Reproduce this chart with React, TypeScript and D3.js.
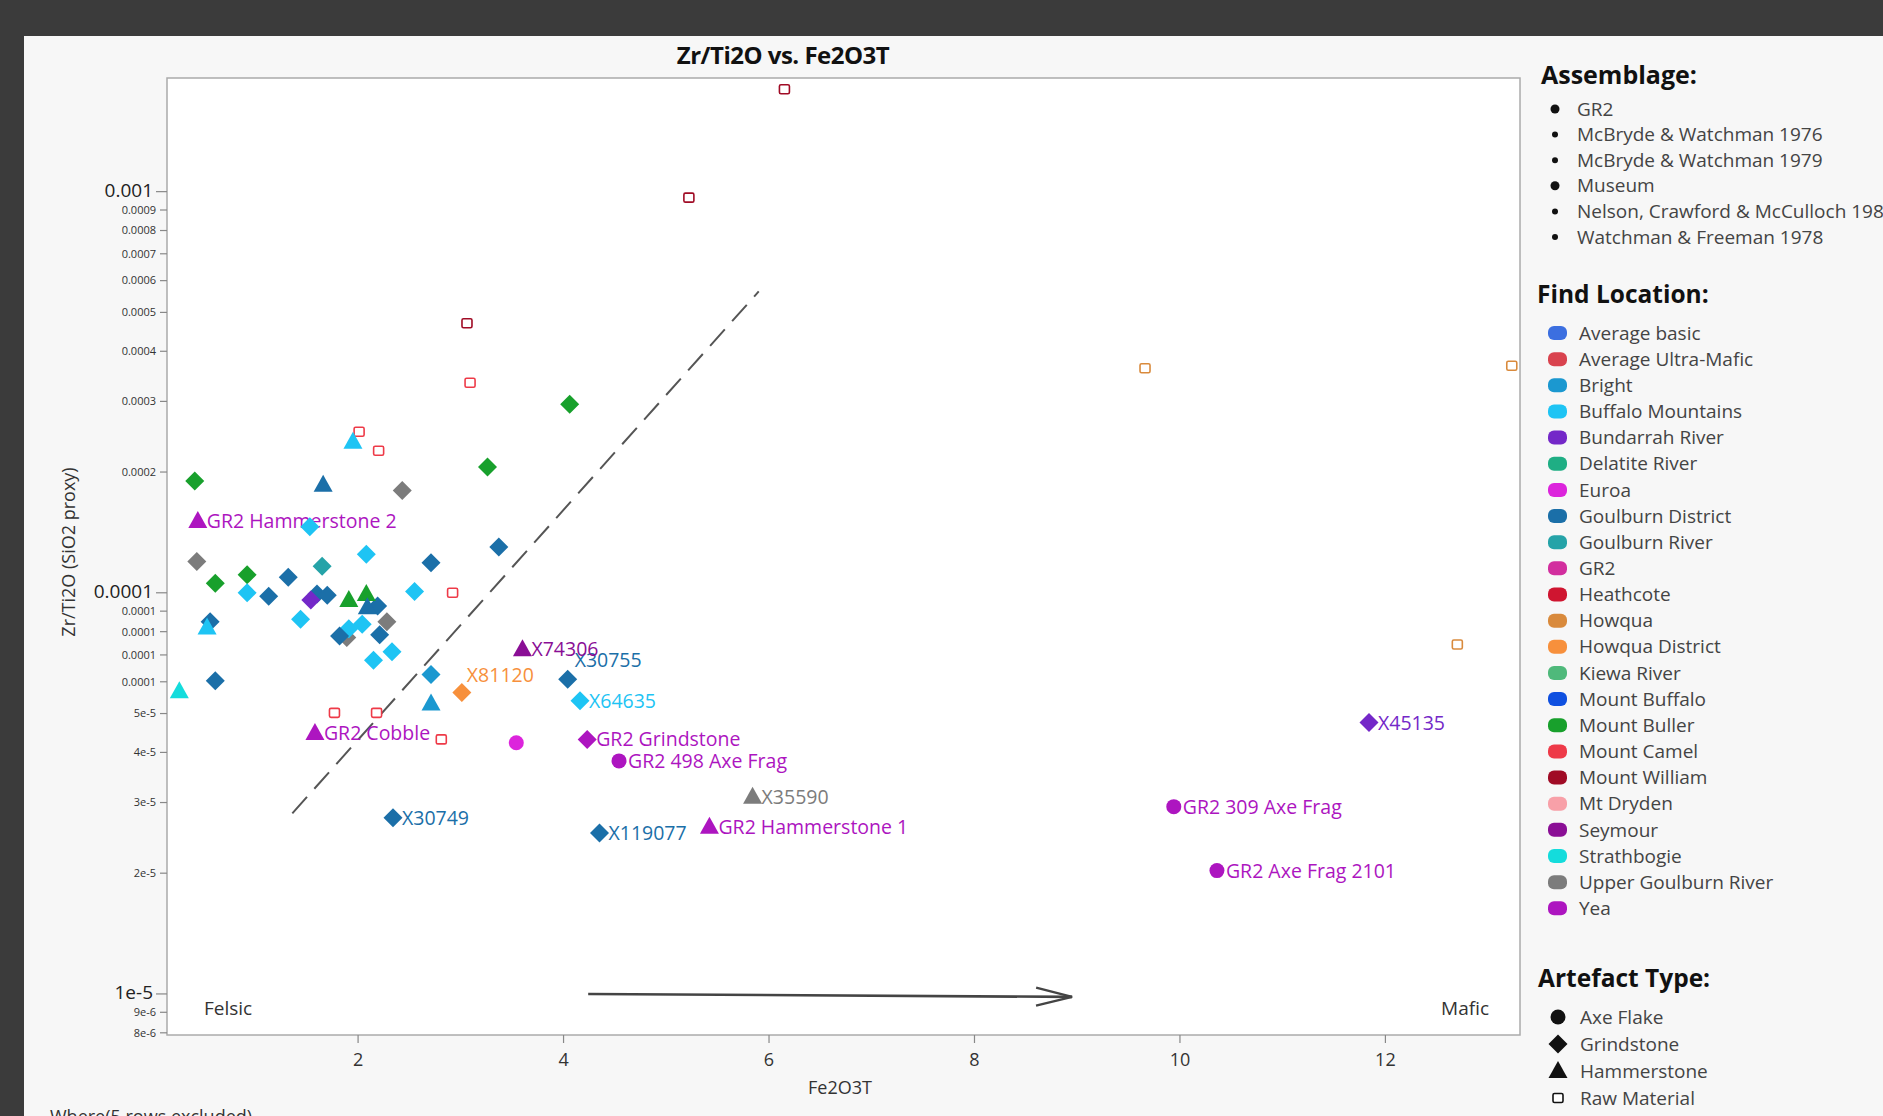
import React from 'react';
import * as d3 from 'd3';

// ---------- categories ----------
const locationNames = [
  'Average basic', 'Average Ultra-Mafic', 'Bright', 'Buffalo Mountains', 'Bundarrah River',
  'Delatite River', 'Euroa', 'Goulburn District', 'Goulburn River', 'GR2', 'Heathcote',
  'Howqua', 'Howqua District', 'Kiewa River', 'Mount Buffalo', 'Mount Buller', 'Mount Camel',
  'Mount William', 'Mt Dryden', 'Seymour', 'Strathbogie', 'Upper Goulburn River', 'Yea',
];
const locationColors = [
  '#3c6fe0', '#d9434e', '#1b98d0', '#1ec4f4', '#7428c8',
  '#1fae84', '#dc24dc', '#1b6fa8', '#25a3a8', '#d22e9e', '#cf1530',
  '#d98a3c', '#f7903c', '#4fb97b', '#0f50e0', '#18a02c', '#ee3a48',
  '#a00b25', '#f8a0a8', '#8a0e95', '#14dcdc', '#7c7c7c', '#ad15c0',
];
const assemblageNames = [
  'GR2', 'McBryde & Watchman 1976', 'McBryde & Watchman 1979', 'Museum',
  'Nelson, Crawford & McCulloch 1980', 'Watchman & Freeman 1978',
];
const assemblageMajor = ['GR2', 'Museum'];
const artefactTypes = ['Axe Flake', 'Grindstone', 'Hammerstone', 'Raw Material'];

// ---------- points ----------
const fe2o3T = [
  // raw material
  6.15, 5.22, 3.06, 3.09, 2.01, 2.20, 2.92, 1.77, 2.18, 2.81, 9.66, 13.23, 12.70,
  // grindstones
  0.41, 3.26, 4.06, 0.61, 0.92,
  2.43, 0.43, 2.28, 1.89,
  1.53, 0.92, 2.08, 2.55, 1.44, 1.91, 2.04, 2.33, 2.15, 4.16,
  1.32, 1.13, 2.71, 3.37, 1.60, 1.70, 2.19, 0.56, 1.82, 2.21, 0.61, 4.04, 2.34, 4.35,
  2.71, 1.65, 1.54, 11.84, 3.01, 4.23,
  // hammerstones
  1.91, 2.08, 5.84, 1.95, 0.53, 1.66, 2.09, 2.71, 0.26, 3.60, 0.44, 1.58, 5.42,
  // axe flakes
  3.54, 4.54, 9.94, 10.36,
];
const zrTi2O = [
  0.00180, 0.000966, 0.00047, 0.000334, 0.000252, 0.000226, 0.000100, 5.02e-5, 5.02e-5, 4.31e-5, 0.000363, 0.000368, 7.43e-5,
  1.90e-4, 2.06e-4, 2.95e-4, 1.057e-4, 1.109e-4,
  1.80e-4, 1.197e-4, 8.47e-5, 7.74e-5,
  1.46e-4, 1.0e-4, 1.247e-4, 1.007e-4, 8.59e-5, 8.13e-5, 8.35e-5, 7.13e-5, 6.79e-5, 5.38e-5,
  1.094e-4, 9.80e-5, 1.189e-4, 1.30e-4, 9.93e-5, 9.86e-5, 9.27e-5, 8.47e-5, 7.80e-5, 7.86e-5, 6.04e-5, 6.09e-5, 2.75e-5, 2.52e-5,
  6.26e-5, 1.164e-4, 9.59e-5, 4.75e-5, 5.64e-5, 4.31e-5,
  9.59e-5, 9.93e-5, 3.10e-5, 2.38e-4, 8.19e-5, 1.86e-4, 9.20e-5, 5.30e-5, 5.68e-5, 7.23e-5, 1.51e-4, 4.47e-5, 2.61e-5,
  4.23e-5, 3.81e-5, 2.93e-5, 2.03e-5,
];
const findLocation = [
  'Mount William', 'Mount William', 'Mount William', 'Mount Camel', 'Mount Camel', 'Mount Camel', 'Mount Camel',
  'Mount Camel', 'Mount Camel', 'Mount Camel', 'Howqua', 'Howqua', 'Howqua',
  'Mount Buller', 'Mount Buller', 'Mount Buller', 'Mount Buller', 'Mount Buller',
  'Upper Goulburn River', 'Upper Goulburn River', 'Upper Goulburn River', 'Upper Goulburn River',
  'Buffalo Mountains', 'Buffalo Mountains', 'Buffalo Mountains', 'Buffalo Mountains', 'Buffalo Mountains',
  'Buffalo Mountains', 'Buffalo Mountains', 'Buffalo Mountains', 'Buffalo Mountains', 'Buffalo Mountains',
  'Goulburn District', 'Goulburn District', 'Goulburn District', 'Goulburn District', 'Goulburn District',
  'Goulburn District', 'Goulburn District', 'Goulburn District', 'Goulburn District', 'Goulburn District',
  'Goulburn District', 'Goulburn District', 'Goulburn District', 'Goulburn District',
  'Bright', 'Goulburn River', 'Bundarrah River', 'Bundarrah River', 'Howqua District', 'Yea',
  'Mount Buller', 'Mount Buller', 'Upper Goulburn River', 'Buffalo Mountains', 'Buffalo Mountains',
  'Goulburn District', 'Goulburn District', 'Bright', 'Strathbogie', 'Seymour', 'Yea', 'Yea', 'Yea',
  'Euroa', 'Yea', 'Yea', 'Yea',
];
const artefactType = [
  ...Array(13).fill('Raw Material'),
  ...Array(39).fill('Grindstone'),
  ...Array(13).fill('Hammerstone'),
  ...Array(4).fill('Axe Flake'),
];
const pointLabel = [
  ...Array(13).fill(''),
  '', '', '', '', '',
  '', '', '', '',
  '', '', '', '', '', '', '', '', '', 'X64635',
  '', '', '', '', '', '', '', '', '', '', '', 'X30755', 'X30749', 'X119077',
  '', '', '', 'X45135', 'X81120', 'GR2 Grindstone',
  '', '', 'X35590', '', '', '', '', '', '', 'X74306', 'GR2 Hammerstone 2', 'GR2 Cobble', 'GR2 Hammerstone 1',
  '', 'GR2 498 Axe Frag', 'GR2 309 Axe Frag', 'GR2 Axe Frag 2101',
];
const labelShift: Record<string, [number, number]> = { X30755: [-2, -19], X81120: [-4, -18] };

// ---------- axes ----------
const xDomain = [0.14, 13.31];
const yDomain = [7.9e-6, 0.00192];
const xTicks = [2, 4, 6, 8, 10, 12];
const yMajorTicks = [0.001, 0.0001, 0.00001];
const yMajorLabels = ['0.001', '0.0001', '1e-5'];
const yMinorTicks = [0.0009, 0.0008, 0.0007, 0.0006, 0.0005, 0.0004, 0.0003, 0.0002,
  0.00009, 0.00008, 0.00007, 0.00006, 0.00005, 0.00004, 0.00003, 0.00002, 0.000009, 0.000008];
const yMinorLabels = ['0.0009', '0.0008', '0.0007', '0.0006', '0.0005', '0.0004', '0.0003', '0.0002',
  '0.0001', '0.0001', '0.0001', '0.0001', '5e-5', '4e-5', '3e-5', '2e-5', '9e-6', '8e-6'];

// ---------- annotations (data coordinates) ----------
const dividerLine: [number, number][] = [[1.36, 2.82e-5], [5.90, 5.64e-4]];
const trendArrow: [number, number][] = [[4.24, 1.0e-5], [8.95, 9.83e-6]];

const FONT = "'Open Sans', 'Noto Sans', sans-serif";

function Marker({ kind, color, cx, cy }: { kind: string; color: string; cx: number; cy: number }) {
  if (kind === 'Grindstone') return <path d="M0,-9.5L9.5,0L0,9.5L-9.5,0Z" transform={`translate(${cx},${cy})`} fill={color} />;
  if (kind === 'Hammerstone') return <path d="M0,-10L9.5,7L-9.5,7Z" transform={`translate(${cx},${cy})`} fill={color} />;
  if (kind === 'Axe Flake') return <circle cx={cx} cy={cy} r={7.5} fill={color} />;
  return <rect x={cx - 5} y={cy - 4.5} width={10} height={9} fill="white" stroke={color} strokeWidth={1.6} rx={1.5} />;
}

export default function App() {
  const L = 167, R = 1520, T = 78, B = 1035;
  const x = d3.scaleLinear().domain(xDomain).range([L, R]);
  const y = d3.scaleLog().domain(yDomain).range([B, T]);
  const colorOf = d3.scaleOrdinal<string, string>().domain(locationNames).range(locationColors);

  const pts = fe2o3T.map((v, i) => ({
    px: x(v), py: y(zrTi2O[i]), color: colorOf(findLocation[i]), kind: artefactType[i], label: pointLabel[i],
  }));

  const line = d3.line<[number, number]>().x(d => x(d[0])).y(d => y(d[1]));
  const a0 = [x(trendArrow[0][0]), y(trendArrow[0][1])];
  const a1 = [x(trendArrow[1][0]), y(trendArrow[1][1])];
  const ang = Math.atan2(a1[1] - a0[1], a1[0] - a0[0]);
  const head = (s: number) => [a1[0] - 36 * Math.cos(ang) + s * 9 * Math.sin(ang), a1[1] - 36 * Math.sin(ang) - s * 9 * Math.cos(ang)];
  const h1 = head(1), h2 = head(-1);

  const legX = 1537;
  return (
    <svg width={1883} height={1116} style={{ position: 'absolute', left: 0, top: 0 }} fontFamily={FONT}>
      <rect width={1883} height={1116} fill="#3b3b3b" />
      <rect x={24} y={36} width={1859} height={1080} fill="#f7f7f7" />
      <text x={783} y={64} textAnchor="middle" fontSize={24} fontWeight={700} fill="#111" letterSpacing={-0.5}>Zr/Ti2O vs. Fe2O3T</text>

      <rect x={L} y={T} width={R - L} height={B - T} fill="white" stroke="#ababab" strokeWidth={1.5} />

      {/* y axis */}
      {yMajorTicks.map((t, i) => (
        <g key={'ymj' + i}>
          <line x1={L - 11} x2={L} y1={y(t)} y2={y(t)} stroke="#888" strokeWidth={1.2} />
          <text x={L - 14} y={y(t)} dy="0.28em" textAnchor="end" fontSize={19} fill="#222">{yMajorLabels[i]}</text>
        </g>
      ))}
      {yMinorTicks.map((t, i) => (
        <g key={'ymn' + i}>
          <line x1={L - 7} x2={L} y1={y(t)} y2={y(t)} stroke="#888" strokeWidth={1.2} />
          <text x={L - 11} y={y(t)} dy="0.35em" textAnchor="end" fontSize={11} fill="#333">{yMinorLabels[i]}</text>
        </g>
      ))}
      <text transform="translate(75,552) rotate(-90)" textAnchor="middle" fontSize={18} fill="#333">Zr/Ti2O (SiO2 proxy)</text>

      {/* x axis */}
      {xTicks.map(t => (
        <g key={'xt' + t}>
          <line x1={x(t)} x2={x(t)} y1={B} y2={B + 8} stroke="#888" strokeWidth={1.2} />
          <text x={x(t)} y={B + 31} textAnchor="middle" fontSize={18} fill="#333">{t}</text>
        </g>
      ))}
      <text x={840} y={1094} textAnchor="middle" fontSize={18} fill="#333">Fe2O3T</text>

      {/* annotations */}
      <path d={line(dividerLine) || ''} stroke="#555" strokeWidth={2} strokeDasharray="22 11" fill="none" />
      <path d={line(trendArrow) || ''} stroke="#444" strokeWidth={2.6} fill="none" />
      <path d={`M${h1[0]},${h1[1]}L${a1[0]},${a1[1]}L${h2[0]},${h2[1]}`} stroke="#444" strokeWidth={2.4} fill="none" />
      <text x={204} y={1015} fontSize={19} fill="#333">Felsic</text>
      <text x={1489} y={1015} textAnchor="end" fontSize={19} fill="#333">Mafic</text>

      {/* labels then markers */}
      {pts.filter(p => p.label).map((p, i) => {
        const s = labelShift[p.label] || [0, 0];
        return (
          <text key={'lb' + i} x={p.px + 9 + s[0]} y={p.py + s[1]} dy="0.36em" fontSize={19.5} fill={p.color}>{p.label}</text>
        );
      })}
      {pts.map((p, i) => <Marker key={'m' + i} kind={p.kind} color={p.color} cx={p.px} cy={p.py} />)}

      <text x={50} y={1123} fontSize={18} fill="#333">Where(5 rows excluded)</text>

      {/* legend: assemblage */}
      <text x={legX + 4} y={84} fontSize={25} fontWeight={700} fill="#111">Assemblage:</text>
      {assemblageNames.map((n, i) => (
        <g key={'as' + i}>
          <circle cx={1555} cy={109 + i * 25.6} r={assemblageMajor.includes(n) ? 4.5 : 3} fill="#111" />
          <text x={1577} y={109 + i * 25.6} dy="0.35em" fontSize={19} fill="#444">{n}</text>
        </g>
      ))}

      {/* legend: find location */}
      <text x={legX} y={303} fontSize={24.5} fontWeight={700} fill="#111">Find Location:</text>
      {locationNames.map((n, i) => (
        <g key={'fl' + i}>
          <rect x={1548} y={333 + i * 26.15 - 7} width={19} height={14} rx={6} fill={locationColors[i]} />
          <text x={1579} y={333 + i * 26.15} dy="0.35em" fontSize={19} fill="#444">{n}</text>
        </g>
      ))}

      {/* legend: artefact type */}
      <text x={legX + 1} y={987} fontSize={24.5} fontWeight={700} fill="#111">Artefact Type:</text>
      {artefactTypes.map((n, i) => (
        <g key={'at' + i}>
          <Marker kind={n} color="#111" cx={1558} cy={1017 + i * 27} />
          <text x={1580} y={1017 + i * 27} dy="0.35em" fontSize={19} fill="#444">{n}</text>
        </g>
      ))}
    </svg>
  );
}
